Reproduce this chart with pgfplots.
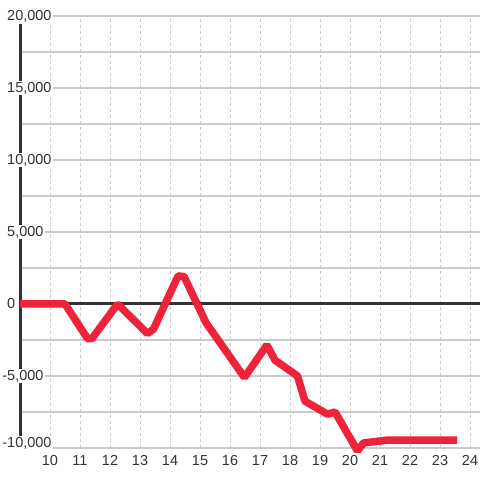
\documentclass[border=0pt]{standalone}
\usepackage{pgfplots}
\pgfplotsset{compat=1.18}
\usepackage{fontspec}
\setmainfont{Liberation Sans}
\definecolor{redline}{HTML}{EE2238}
\definecolor{gridgray}{HTML}{CACACA}
\definecolor{axisdark}{HTML}{333333}
\begin{document}
\begin{tikzpicture}
\begin{axis}[
  set layers=standard,
  scale only axis,
  width=460bp, height=432bp,
  xmin=9, xmax=24.3333,
  ymin=-10000, ymax=20000,
  clip=false,
  axis line style={draw=none},
  major tick length=0pt, minor tick length=0pt,
  xtick={10,...,24},
  ytick={-5000,0,...,20000},
  yticklabels={\llap{-}5{,}000,0,5{,}000,10{,}000,15{,}000,20{,}000},
  extra y ticks={-10000},
  extra y tick labels={\llap{-}10{,}000},
  extra y tick style={yticklabel style={yshift=5bp}},
  minor ytick={-7500,-2500,...,17500},
  xmajorgrids, ymajorgrids, yminorgrids,
  major x grid style={gridgray, line width=1bp, dash pattern=on 3bp off 3bp},
  major y grid style={gridgray, line width=1.2bp},
  minor y grid style={gridgray, line width=1.2bp},
  scaled y ticks=false,
  /pgf/number format/assume math mode=true,
  /pgf/number format/1000 sep={,},
  tick label style={font=\fontsize{14.5bp}{17bp}\selectfont, text=axisdark},
  yticklabel style={anchor=west, xshift=-14.5bp, inner xsep=1.5bp, inner ysep=1bp, fill=white},
  xticklabel style={anchor=north, yshift=-7bp, inner sep=0pt},
]
\addplot[on layer=axis grid, axisdark, line width=3bp] coordinates {(9,19444) (9,-9236)};
\addplot[axisdark, line width=3bp] coordinates {(9,0) (24.3333,0)};
\addplot[redline, line width=7.5bp, line join=bevel] coordinates {
(9,0) (10.5,0) (11.25,-2400) (11.4,-2400) (12.25,0) (13.25,-2050) (13.45,-1750)
(14.27,1950) (14.47,1900) (15.2,-1300) (16.48,-5100) (17.23,-2850) (17.5,-3900)
(18.25,-5000) (18.5,-6750) (19.25,-7650) (19.5,-7500) (20.25,-10200) (20.45,-9650)
(21.25,-9450) (23.57,-9450)
};
\coordinate (bl) at (axis cs:8.3333,-12222.2);
\coordinate (tr) at (axis cs:24.3333,21111.1);
\end{axis}
\pgfresetboundingbox
\useasboundingbox (bl) rectangle (tr);
\end{tikzpicture}
\end{document}
